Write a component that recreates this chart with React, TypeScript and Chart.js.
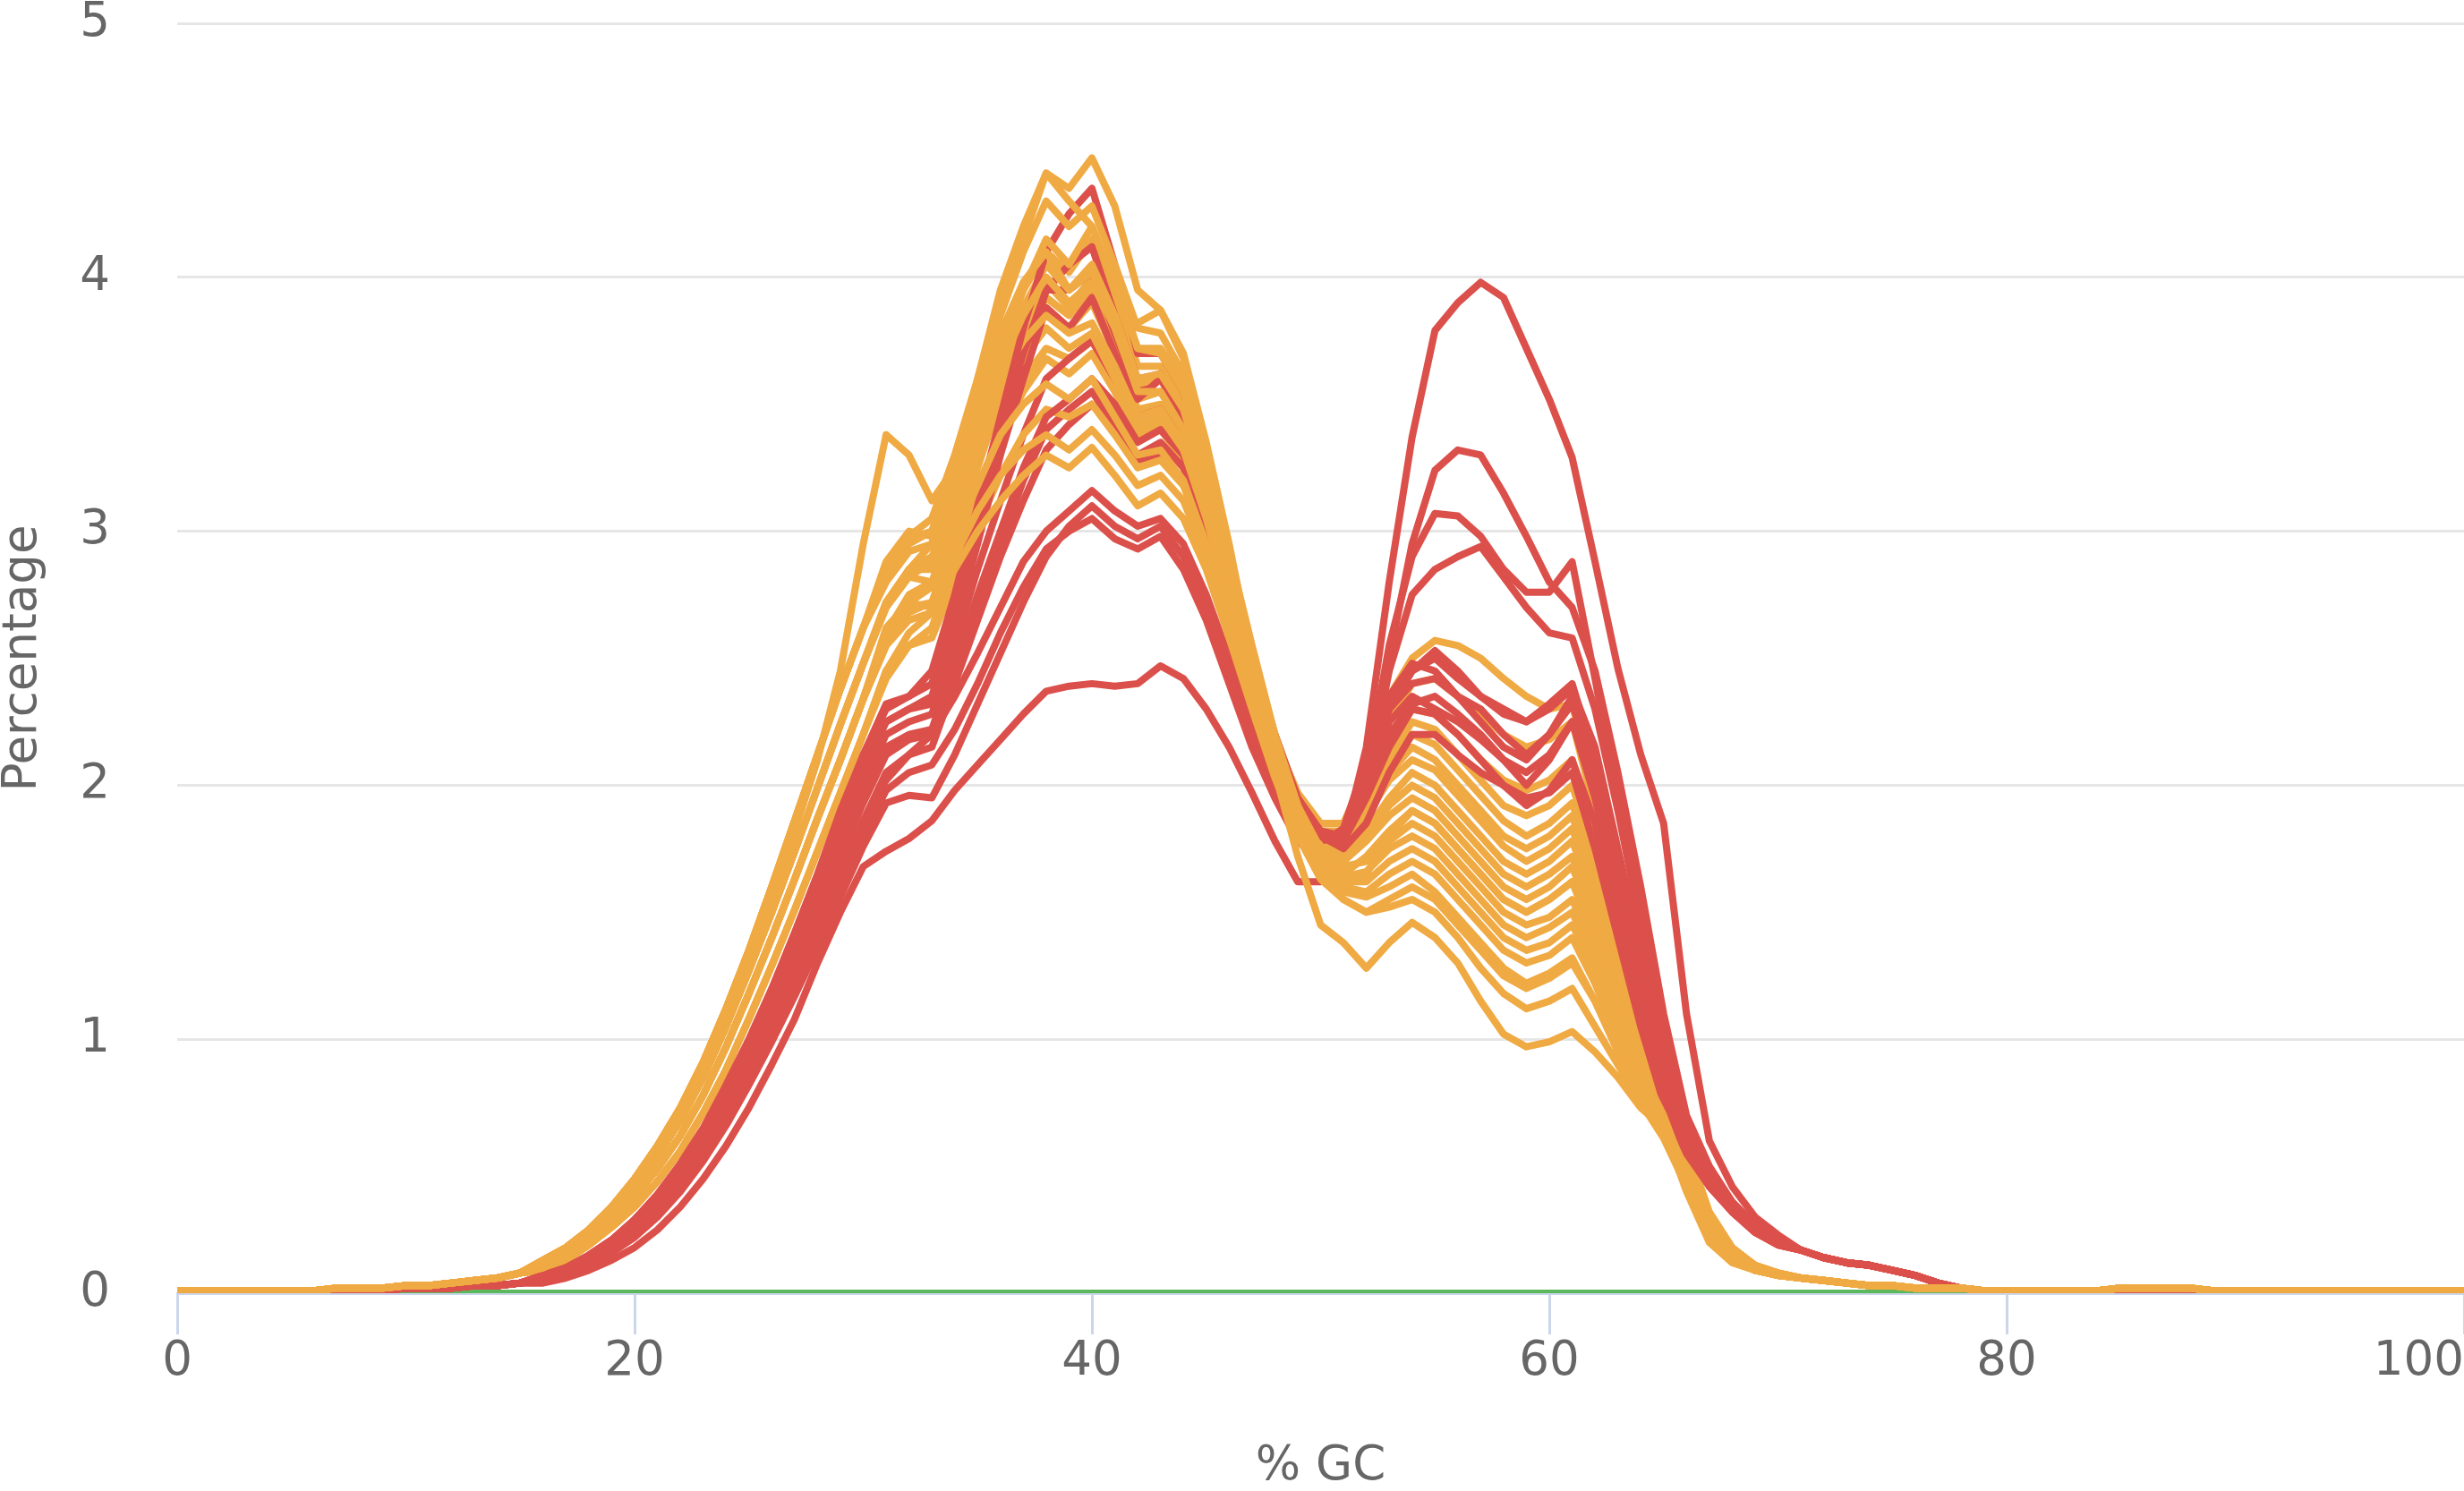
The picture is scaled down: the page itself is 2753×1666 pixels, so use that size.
import React, { useEffect, useRef } from "react";
import { Chart, registerables } from "chart.js";

Chart.register(...registerables);

// % GC categories (x axis)
const GC_PERCENT = [
  0, 1, 2, 3, 4, 5, 6, 7, 8, 9, 10, 11, 12, 13, 14, 15, 16, 17, 18, 19, 20,
  21, 22, 23, 24, 25, 26, 27, 28, 29, 30, 31, 32, 33, 34, 35, 36, 37, 38, 39, 40,
  41, 42, 43, 44, 45, 46, 47, 48, 49, 50, 51, 52, 53, 54, 55, 56, 57, 58, 59, 60,
  61, 62, 63, 64, 65, 66, 67, 68, 69, 70, 71, 72, 73, 74, 75, 76, 77, 78, 79, 80,
  81, 82, 83, 84, 85, 86, 87, 88, 89, 90, 91, 92, 93, 94, 95, 96, 97, 98, 99, 100,
];

// shared near-zero tails (x = 0..15 and x = 71..100)
const LEFT_TAIL_WARN = [0.01, 0.01, 0.01, 0.01, 0.01, 0.01, 0.01, 0.02, 0.02, 0.02, 0.03, 0.03, 0.04, 0.05, 0.06, 0.08];
const LEFT_TAIL_FAIL = [0, 0.01, 0.01, 0.01, 0.01, 0.01, 0.01, 0.01, 0.01, 0.01, 0.02, 0.02, 0.02, 0.03, 0.03, 0.04];
const RIGHT_TAIL_WARN = [0.06, 0.05, 0.04, 0.03, 0.03, 0.02, 0.02, 0.02, 0.01, 0.01, 0.01, 0.01, 0.01, 0.01, 0.02, 0.02, 0.02, 0.02, 0.01, 0.01, 0.01, 0.01, 0.01, 0.01, 0.01, 0.01, 0.01, 0.01, 0.01, 0.01];
const RIGHT_TAIL_FAIL = [0.17, 0.14, 0.12, 0.11, 0.09, 0.07, 0.04, 0.02, 0.01, 0.01, 0.01, 0.01, 0.01, 0.01, 0.01, 0.01, 0.01, 0.01, 0.01, 0.01, 0.01, 0.01, 0.01, 0.01, 0.01, 0.01, 0.01, 0.01, 0.01, 0.01];

// ---- failed samples (red) : x = 16..30 | 31..49 | 50..70
const fail01 = [...LEFT_TAIL_FAIL,
  0.04, 0.06, 0.09, 0.13, 0.18, 0.25, 0.34, 0.45, 0.58, 0.73, 0.9, 1.08, 1.3, 1.5, 1.68,
  1.74, 1.79, 1.86, 1.98, 2.08, 2.18, 2.28, 2.37, 2.39, 2.4, 2.39, 2.4, 2.47, 2.42, 2.3, 2.15, 1.97, 1.78, 1.62,
  1.62, 1.78, 2.15, 2.8, 3.37, 3.79, 3.9, 3.98, 3.92, 3.72, 3.52, 3.29, 2.88, 2.46, 2.12, 1.85, 1.1, 0.6, 0.42, 0.3, 0.23,
  ...RIGHT_TAIL_FAIL];
const fail02 = [...LEFT_TAIL_FAIL,
  0.05, 0.07, 0.11, 0.16, 0.22, 0.3, 0.4, 0.52, 0.66, 0.82, 0.99, 1.17, 1.36, 1.56, 1.76,
  1.93, 1.96, 1.95, 2.12, 2.32, 2.52, 2.72, 2.9, 3.02, 3.1, 3.02, 2.97, 3.02, 2.9, 2.7, 2.45, 2.2, 1.98, 1.8,
  1.7, 1.72, 2.0, 2.5, 2.95, 3.24, 3.32, 3.3, 3.15, 2.98, 2.8, 2.7, 2.45, 2.05, 1.6, 1.1, 0.7, 0.5, 0.36, 0.27, 0.21,
  ...RIGHT_TAIL_FAIL];
const fail03 = [...LEFT_TAIL_FAIL,
  0.05, 0.08, 0.12, 0.17, 0.23, 0.31, 0.41, 0.53, 0.67, 0.83, 1.0, 1.19, 1.39, 1.6, 1.8,
  1.98, 2.05, 2.08, 2.22, 2.4, 2.6, 2.78, 2.93, 3.0, 3.05, 2.97, 2.93, 2.98, 2.85, 2.65, 2.4, 2.15, 1.95, 1.78,
  1.7, 1.75, 2.05, 2.55, 2.9, 3.07, 3.06, 2.98, 2.85, 2.76, 2.76, 2.88, 2.42, 1.95, 1.5, 1.05, 0.68, 0.48, 0.34, 0.26, 0.2,
  ...RIGHT_TAIL_FAIL];
const fail04 = [...LEFT_TAIL_FAIL,
  0.05, 0.08, 0.12, 0.17, 0.24, 0.32, 0.42, 0.55, 0.7, 0.87, 1.05, 1.24, 1.44, 1.65, 1.86,
  2.02, 2.12, 2.2, 2.35, 2.52, 2.7, 2.88, 3.0, 3.08, 3.16, 3.08, 3.02, 3.05, 2.95, 2.75, 2.5, 2.25, 2.0, 1.82,
  1.72, 1.73, 2.0, 2.45, 2.75, 2.85, 2.9, 2.94, 2.82, 2.7, 2.6, 2.58, 2.3, 1.9, 1.45, 1.0, 0.65, 0.46, 0.33, 0.25, 0.2,
  ...RIGHT_TAIL_FAIL];
const fail05 = [...LEFT_TAIL_FAIL,
  0.07, 0.1, 0.15, 0.21, 0.29, 0.39, 0.51, 0.65, 0.82, 1.0, 1.2, 1.42, 1.65, 1.9, 2.12,
  2.3, 2.35, 2.45, 2.75, 3.1, 3.45, 3.8, 4.1, 4.25, 4.35, 4.05, 3.7, 3.7, 3.55, 3.2, 2.85, 2.5, 2.2, 1.95,
  1.8, 1.75, 1.85, 2.05, 2.2, 2.2, 2.12, 2.05, 2.0, 1.95, 1.97, 2.05, 1.75, 1.4, 1.05, 0.75, 0.55, 0.42, 0.32, 0.25, 0.2,
  ...RIGHT_TAIL_FAIL];
const fail06 = [...LEFT_TAIL_FAIL,
  0.07, 0.1, 0.14, 0.2, 0.28, 0.37, 0.49, 0.63, 0.79, 0.97, 1.17, 1.38, 1.61, 1.85, 2.08,
  2.25, 2.3, 2.35, 2.65, 3.0, 3.35, 3.65, 3.95, 4.05, 4.12, 3.85, 3.6, 3.62, 3.45, 3.15, 2.8, 2.45, 2.15, 1.92,
  1.78, 1.8, 2.05, 2.3, 2.45, 2.53, 2.45, 2.35, 2.28, 2.25, 2.32, 2.4, 2.1, 1.7, 1.3, 0.9, 0.62, 0.45, 0.34, 0.26, 0.21,
  ...RIGHT_TAIL_FAIL];
const fail07 = [...LEFT_TAIL_FAIL,
  0.06, 0.09, 0.13, 0.19, 0.26, 0.35, 0.46, 0.59, 0.75, 0.93, 1.12, 1.33, 1.55, 1.78, 2.0,
  2.2, 2.25, 2.28, 2.55, 2.85, 3.12, 3.38, 3.6, 3.68, 3.75, 3.6, 3.45, 3.48, 3.35, 3.08, 2.75, 2.42, 2.13, 1.9,
  1.78, 1.82, 2.1, 2.3, 2.4, 2.42, 2.35, 2.3, 2.2, 2.12, 2.2, 2.32, 2.05, 1.65, 1.25, 0.85, 0.6, 0.44, 0.33, 0.25, 0.2,
  ...RIGHT_TAIL_FAIL];
const fail08 = [...LEFT_TAIL_FAIL,
  0.06, 0.09, 0.13, 0.18, 0.25, 0.34, 0.45, 0.58, 0.73, 0.9, 1.09, 1.3, 1.52, 1.74, 1.95,
  2.15, 2.2, 2.22, 2.48, 2.75, 3.0, 3.25, 3.45, 3.52, 3.6, 3.5, 3.35, 3.4, 3.3, 3.05, 2.72, 2.4, 2.1, 1.88,
  1.75, 1.78, 2.0, 2.25, 2.35, 2.3, 2.25, 2.18, 2.1, 2.0, 2.1, 2.25, 2.0, 1.6, 1.2, 0.82, 0.58, 0.43, 0.32, 0.24, 0.19,
  ...RIGHT_TAIL_FAIL];
const fail09 = [...LEFT_TAIL_FAIL,
  0.06, 0.09, 0.13, 0.18, 0.25, 0.34, 0.44, 0.57, 0.72, 0.89, 1.08, 1.28, 1.5, 1.72, 1.93,
  2.12, 2.18, 2.2, 2.45, 2.7, 2.95, 3.2, 3.4, 3.48, 3.55, 3.42, 3.3, 3.35, 3.25, 3.0, 2.68, 2.37, 2.08, 1.87,
  1.77, 1.83, 2.1, 2.35, 2.48, 2.45, 2.35, 2.25, 2.15, 2.1, 2.2, 2.35, 2.05, 1.65, 1.25, 0.85, 0.6, 0.44, 0.33, 0.25, 0.2,
  ...RIGHT_TAIL_FAIL];
const fail10 = [...LEFT_TAIL_FAIL,
  0.07, 0.1, 0.14, 0.2, 0.28, 0.37, 0.48, 0.62, 0.78, 0.96, 1.15, 1.36, 1.6, 1.83, 2.05,
  2.25, 2.3, 2.32, 2.62, 2.95, 3.3, 3.6, 3.88, 3.8, 3.92, 3.7, 3.52, 3.6, 3.45, 3.15, 2.8, 2.45, 2.15, 1.92,
  1.8, 1.78, 1.95, 2.15, 2.3, 2.28, 2.2, 2.1, 2.0, 1.92, 1.98, 2.1, 1.85, 1.5, 1.15, 0.8, 0.56, 0.42, 0.32, 0.24, 0.19,
  ...RIGHT_TAIL_FAIL];
const fail11 = [...LEFT_TAIL_FAIL,
  0.06, 0.08, 0.12, 0.17, 0.24, 0.32, 0.42, 0.55, 0.7, 0.86, 1.04, 1.24, 1.45, 1.66, 1.86,
  2.05, 2.12, 2.15, 2.4, 2.65, 2.9, 3.12, 3.32, 3.42, 3.5, 3.4, 3.28, 3.3, 3.2, 2.95, 2.65, 2.35, 2.05, 1.85,
  1.75, 1.8, 2.05, 2.3, 2.45, 2.5, 2.42, 2.35, 2.3, 2.25, 2.3, 2.38, 2.15, 1.75, 1.35, 0.95, 0.65, 0.47, 0.35, 0.27, 0.21,
  ...RIGHT_TAIL_FAIL];
const fail12 = [...LEFT_TAIL_FAIL,
  0.07, 0.1, 0.15, 0.21, 0.29, 0.38, 0.5, 0.64, 0.8, 0.98, 1.18, 1.4, 1.63, 1.88, 2.12,
  2.32, 2.35, 2.4, 2.7, 3.05, 3.4, 3.7, 3.95, 3.95, 4.02, 3.78, 3.55, 3.6, 3.48, 3.18, 2.82, 2.48, 2.18, 1.95,
  1.82, 1.8, 1.98, 2.2, 2.32, 2.35, 2.28, 2.2, 2.1, 2.05, 2.12, 2.25, 1.95, 1.55, 1.2, 0.82, 0.57, 0.42, 0.32, 0.24, 0.19,
  ...RIGHT_TAIL_FAIL];

// ---- warning samples (orange) : x = 16..30 | 31..49 | 50..70
const warn01 = [...LEFT_TAIL_WARN,
  0.12, 0.17, 0.24, 0.33, 0.44, 0.57, 0.72, 0.9, 1.1, 1.33, 1.57, 1.82, 2.1, 2.45, 2.95,
  3.38, 3.3, 3.12, 3.25, 3.45, 3.65, 3.85, 4.0, 3.9, 3.98, 3.8, 3.55, 3.55, 3.4, 3.1, 2.75, 2.4, 2.1, 1.85,
  1.7, 1.6, 1.65, 1.8, 1.9, 1.85, 1.75, 1.65, 1.55, 1.5, 1.55, 1.62, 1.4, 1.15, 0.9, 0.68, 0.45, 0.25, 0.15, 0.1, 0.07,
  ...RIGHT_TAIL_WARN];
const warn02 = [...LEFT_TAIL_WARN,
  0.13, 0.18, 0.25, 0.34, 0.45, 0.58, 0.73, 0.91, 1.12, 1.35, 1.6, 1.86, 2.12, 2.38, 2.62,
  2.85, 2.98, 3.05, 3.3, 3.6, 3.9, 4.15, 4.41, 4.35, 4.47, 4.28, 3.95, 3.87, 3.7, 3.35, 2.95, 2.5, 2.05, 1.72,
  1.45, 1.38, 1.28, 1.38, 1.46, 1.4, 1.3, 1.15, 1.02, 0.97, 0.99, 1.03, 0.95, 0.85, 0.73, 0.65, 0.4, 0.2, 0.12, 0.09, 0.07,
  ...RIGHT_TAIL_WARN];
const warn03 = [...LEFT_TAIL_WARN,
  0.12, 0.17, 0.23, 0.32, 0.42, 0.54, 0.68, 0.85, 1.05, 1.27, 1.5, 1.74, 1.99, 2.24, 2.48,
  2.72, 2.85, 2.95, 3.25, 3.6, 3.95, 4.2, 4.41, 4.3, 4.2, 3.98, 3.72, 3.7, 3.55, 3.22, 2.85, 2.48, 2.15, 1.88,
  1.68, 1.55, 1.5, 1.55, 1.6, 1.55, 1.45, 1.35, 1.25, 1.2, 1.24, 1.3, 1.15, 0.95, 0.78, 0.62, 0.42, 0.23, 0.13, 0.09, 0.07,
  ...RIGHT_TAIL_WARN];
const warn04 = [...LEFT_TAIL_WARN,
  0.13, 0.18, 0.25, 0.34, 0.45, 0.58, 0.73, 0.91, 1.12, 1.35, 1.6, 1.86, 2.12, 2.38, 2.62,
  2.82, 2.95, 3.0, 3.25, 3.55, 3.85, 4.1, 4.3, 4.2, 4.28, 4.05, 3.8, 3.78, 3.62, 3.3, 2.92, 2.55, 2.2, 1.92,
  1.72, 1.62, 1.62, 1.7, 1.75, 1.7, 1.6, 1.5, 1.4, 1.35, 1.38, 1.45, 1.28, 1.05, 0.85, 0.68, 0.45, 0.25, 0.14, 0.09, 0.07,
  ...RIGHT_TAIL_WARN];
const warn05 = [...LEFT_TAIL_WARN,
  0.1, 0.15, 0.21, 0.29, 0.38, 0.49, 0.62, 0.78, 0.97, 1.18, 1.4, 1.63, 1.87, 2.1, 2.34,
  2.58, 2.72, 2.78, 3.05, 3.38, 3.7, 3.95, 4.15, 4.05, 4.2, 3.98, 3.72, 3.72, 3.58, 3.25, 2.88, 2.5, 2.18, 1.92,
  1.75, 1.68, 1.7, 1.78, 1.85, 1.8, 1.7, 1.6, 1.5, 1.45, 1.48, 1.55, 1.35, 1.1, 0.88, 0.7, 0.46, 0.26, 0.15, 0.1, 0.07,
  ...RIGHT_TAIL_WARN];
const warn06 = [...LEFT_TAIL_WARN,
  0.12, 0.17, 0.23, 0.32, 0.42, 0.54, 0.68, 0.85, 1.05, 1.27, 1.5, 1.74, 1.99, 2.24, 2.48,
  2.7, 2.82, 2.88, 3.12, 3.42, 3.72, 3.95, 4.1, 4.02, 4.15, 3.92, 3.65, 3.65, 3.5, 3.2, 2.85, 2.5, 2.2, 1.95,
  1.8, 1.75, 1.88, 2.1, 2.25, 2.22, 2.12, 2.02, 1.92, 1.88, 1.92, 2.0, 1.72, 1.38, 1.05, 0.78, 0.5, 0.28, 0.16, 0.1, 0.08,
  ...RIGHT_TAIL_WARN];
const warn07 = [...LEFT_TAIL_WARN,
  0.13, 0.18, 0.25, 0.34, 0.45, 0.58, 0.73, 0.91, 1.12, 1.35, 1.6, 1.86, 2.12, 2.38, 2.62,
  2.85, 2.97, 3.0, 3.22, 3.5, 3.78, 3.98, 4.1, 3.95, 4.05, 3.85, 3.6, 3.62, 3.48, 3.18, 2.82, 2.45, 2.12, 1.88,
  1.68, 1.6, 1.58, 1.65, 1.7, 1.65, 1.55, 1.45, 1.35, 1.3, 1.33, 1.4, 1.22, 1.0, 0.82, 0.66, 0.44, 0.24, 0.14, 0.09, 0.07,
  ...RIGHT_TAIL_WARN];
const warn08 = [...LEFT_TAIL_WARN,
  0.1, 0.15, 0.21, 0.29, 0.38, 0.49, 0.62, 0.78, 0.97, 1.18, 1.4, 1.63, 1.87, 2.1, 2.34,
  2.6, 2.75, 2.8, 3.05, 3.35, 3.65, 3.88, 4.05, 3.95, 4.02, 3.82, 3.58, 3.6, 3.45, 3.15, 2.8, 2.45, 2.15, 1.9,
  1.75, 1.7, 1.78, 1.88, 1.95, 1.9, 1.8, 1.7, 1.6, 1.55, 1.6, 1.68, 1.45, 1.18, 0.92, 0.72, 0.47, 0.26, 0.15, 0.1, 0.07,
  ...RIGHT_TAIL_WARN];
const warn09 = [...LEFT_TAIL_WARN,
  0.12, 0.17, 0.23, 0.32, 0.42, 0.54, 0.68, 0.85, 1.05, 1.27, 1.5, 1.74, 1.99, 2.24, 2.48,
  2.7, 2.85, 2.9, 3.1, 3.35, 3.6, 3.82, 3.98, 3.88, 4.0, 3.78, 3.52, 3.55, 3.4, 3.1, 2.78, 2.45, 2.15, 1.92,
  1.78, 1.72, 1.82, 1.95, 2.05, 2.0, 1.9, 1.8, 1.7, 1.65, 1.7, 1.78, 1.55, 1.25, 0.98, 0.75, 0.49, 0.27, 0.16, 0.1, 0.07,
  ...RIGHT_TAIL_WARN];
const warn10 = [...LEFT_TAIL_WARN,
  0.09, 0.13, 0.19, 0.26, 0.34, 0.44, 0.56, 0.71, 0.88, 1.08, 1.29, 1.51, 1.74, 1.97, 2.2,
  2.45, 2.6, 2.68, 2.95, 3.25, 3.52, 3.75, 3.92, 3.85, 3.95, 3.75, 3.52, 3.55, 3.42, 3.12, 2.8, 2.48, 2.18, 1.95,
  1.82, 1.8, 1.95, 2.15, 2.3, 2.28, 2.2, 2.1, 2.02, 1.98, 2.02, 2.1, 1.8, 1.45, 1.1, 0.8, 0.52, 0.29, 0.17, 0.11, 0.08,
  ...RIGHT_TAIL_WARN];
const warn11 = [...LEFT_TAIL_WARN,
  0.1, 0.15, 0.21, 0.29, 0.38, 0.49, 0.62, 0.78, 0.97, 1.18, 1.4, 1.63, 1.87, 2.1, 2.34,
  2.55, 2.68, 2.72, 2.98, 3.28, 3.55, 3.75, 3.88, 3.8, 3.9, 3.7, 3.48, 3.5, 3.38, 3.1, 2.78, 2.45, 2.15, 1.93,
  1.8, 1.75, 1.88, 2.05, 2.15, 2.1, 2.0, 1.9, 1.8, 1.75, 1.8, 1.88, 1.62, 1.3, 1.02, 0.78, 0.5, 0.28, 0.16, 0.1, 0.07,
  ...RIGHT_TAIL_WARN];
const warn12 = [...LEFT_TAIL_WARN,
  0.13, 0.18, 0.25, 0.34, 0.45, 0.58, 0.73, 0.91, 1.12, 1.35, 1.6, 1.86, 2.12, 2.38, 2.62,
  2.88, 3.0, 2.98, 3.15, 3.38, 3.6, 3.75, 3.85, 3.78, 3.82, 3.65, 3.45, 3.48, 3.35, 3.08, 2.75, 2.42, 2.12, 1.88,
  1.72, 1.65, 1.72, 1.82, 1.9, 1.85, 1.75, 1.65, 1.55, 1.5, 1.55, 1.62, 1.4, 1.15, 0.9, 0.7, 0.46, 0.26, 0.15, 0.1, 0.07,
  ...RIGHT_TAIL_WARN];
const warn13 = [...LEFT_TAIL_WARN,
  0.12, 0.17, 0.23, 0.32, 0.42, 0.54, 0.68, 0.85, 1.05, 1.27, 1.5, 1.74, 1.99, 2.24, 2.48,
  2.72, 2.85, 2.85, 3.05, 3.3, 3.52, 3.68, 3.8, 3.72, 3.78, 3.6, 3.42, 3.45, 3.32, 3.05, 2.72, 2.4, 2.12, 1.9,
  1.76, 1.72, 1.8, 1.92, 2.0, 1.95, 1.85, 1.75, 1.65, 1.6, 1.65, 1.72, 1.5, 1.22, 0.95, 0.74, 0.48, 0.27, 0.16, 0.1, 0.07,
  ...RIGHT_TAIL_WARN];
const warn14 = [...LEFT_TAIL_WARN,
  0.09, 0.13, 0.19, 0.26, 0.34, 0.44, 0.56, 0.71, 0.88, 1.08, 1.29, 1.51, 1.74, 1.97, 2.2,
  2.42, 2.55, 2.62, 2.88, 3.15, 3.4, 3.6, 3.72, 3.68, 3.75, 3.58, 3.4, 3.42, 3.3, 3.05, 2.75, 2.45, 2.18, 1.97,
  1.85, 1.85, 2.05, 2.35, 2.5, 2.57, 2.55, 2.5, 2.42, 2.35, 2.3, 2.32, 1.95, 1.55, 1.2, 0.9, 0.58, 0.32, 0.18, 0.11, 0.08,
  ...RIGHT_TAIL_WARN];
const warn15 = [...LEFT_TAIL_WARN,
  0.1, 0.15, 0.21, 0.29, 0.38, 0.49, 0.62, 0.78, 0.97, 1.18, 1.4, 1.63, 1.87, 2.1, 2.34,
  2.55, 2.65, 2.68, 2.9, 3.15, 3.38, 3.55, 3.68, 3.62, 3.7, 3.55, 3.38, 3.4, 3.28, 3.02, 2.72, 2.42, 2.15, 1.93,
  1.82, 1.78, 1.92, 2.1, 2.2, 2.16, 2.06, 1.96, 1.86, 1.8, 1.85, 1.93, 1.66, 1.33, 1.04, 0.78, 0.5, 0.28, 0.16, 0.1, 0.07,
  ...RIGHT_TAIL_WARN];
const warn16 = [...LEFT_TAIL_WARN,
  0.12, 0.17, 0.23, 0.32, 0.42, 0.54, 0.68, 0.85, 1.05, 1.27, 1.5, 1.74, 1.99, 2.24, 2.48,
  2.72, 2.82, 2.8, 2.98, 3.18, 3.38, 3.5, 3.58, 3.52, 3.6, 3.45, 3.3, 3.32, 3.2, 2.95, 2.65, 2.35, 2.08, 1.85,
  1.7, 1.64, 1.66, 1.75, 1.8, 1.75, 1.65, 1.55, 1.45, 1.4, 1.44, 1.5, 1.3, 1.08, 0.86, 0.68, 0.45, 0.25, 0.14, 0.09, 0.07,
  ...RIGHT_TAIL_WARN];
const warn17 = [...LEFT_TAIL_WARN,
  0.09, 0.13, 0.19, 0.26, 0.34, 0.44, 0.56, 0.71, 0.88, 1.08, 1.29, 1.51, 1.74, 1.97, 2.2,
  2.45, 2.55, 2.58, 2.8, 3.02, 3.22, 3.38, 3.48, 3.45, 3.5, 3.38, 3.25, 3.28, 3.18, 2.95, 2.68, 2.38, 2.12, 1.92,
  1.8, 1.76, 1.88, 2.02, 2.1, 2.06, 1.96, 1.86, 1.76, 1.7, 1.75, 1.83, 1.58, 1.28, 1.0, 0.76, 0.49, 0.27, 0.16, 0.1, 0.07,
  ...RIGHT_TAIL_WARN];
const warn18 = [...LEFT_TAIL_WARN,
  0.1, 0.15, 0.21, 0.29, 0.38, 0.49, 0.62, 0.78, 0.97, 1.18, 1.4, 1.63, 1.87, 2.1, 2.34,
  2.6, 2.7, 2.72, 2.9, 3.08, 3.22, 3.32, 3.38, 3.32, 3.4, 3.3, 3.18, 3.22, 3.12, 2.9, 2.62, 2.32, 2.05, 1.82,
  1.66, 1.58, 1.56, 1.6, 1.65, 1.58, 1.48, 1.38, 1.28, 1.22, 1.26, 1.32, 1.15, 0.96, 0.78, 0.63, 0.43, 0.24, 0.14, 0.09, 0.07,
  ...RIGHT_TAIL_WARN];
const warn19 = [...LEFT_TAIL_WARN,
  0.1, 0.15, 0.21, 0.29, 0.38, 0.49, 0.62, 0.78, 0.97, 1.18, 1.4, 1.63, 1.87, 2.1, 2.34,
  2.62, 2.72, 2.7, 2.85, 3.0, 3.12, 3.22, 3.3, 3.25, 3.33, 3.22, 3.1, 3.15, 3.05, 2.85, 2.58, 2.3, 2.03, 1.8,
  1.63, 1.55, 1.5, 1.52, 1.55, 1.5, 1.4, 1.28, 1.18, 1.12, 1.15, 1.2, 1.05, 0.9, 0.75, 0.61, 0.42, 0.23, 0.13, 0.09, 0.07,
  ...RIGHT_TAIL_WARN];
const warn20 = [...LEFT_TAIL_WARN,
  0.13, 0.18, 0.25, 0.34, 0.45, 0.58, 0.73, 0.91, 1.12, 1.35, 1.6, 1.86, 2.12, 2.38, 2.62,
  2.8, 2.92, 2.95, 3.15, 3.42, 3.65, 3.82, 3.92, 3.85, 3.95, 3.85, 3.82, 3.87, 3.68, 3.3, 2.9, 2.52, 2.2, 1.95,
  1.82, 1.82, 2.0, 2.25, 2.4, 2.42, 2.35, 2.28, 2.2, 2.15, 2.18, 2.25, 1.9, 1.5, 1.15, 0.85, 0.55, 0.3, 0.17, 0.11, 0.08,
  ...RIGHT_TAIL_WARN];

// ---- passed sample (green), flat at zero
const pass01 = [
  0, 0, 0, 0, 0, 0, 0, 0, 0, 0, 0, 0, 0, 0, 0, 0, 0, 0, 0, 0, 0,
  0, 0, 0, 0, 0, 0, 0, 0, 0, 0, 0, 0, 0, 0, 0, 0, 0, 0, 0, 0,
  0, 0, 0, 0, 0, 0, 0, 0, 0, 0, 0, 0, 0, 0, 0, 0, 0, 0, 0, 0,
  0, 0, 0, 0, 0, 0, 0, 0, 0, 0, 0, 0, 0, 0, 0, 0, 0, 0, 0, 0,
  0, 0, 0, 0, 0, 0, 0, 0, 0, 0, 0, 0, 0, 0, 0, 0, 0, 0, 0, 0,
];

const Y_TICKS = [0, 1, 2, 3, 4, 5];
const X_TICK_STEP = 20;

const FAIL = "#dc504b";
const WARN = "#f0aa43";
const PASS = "#5cb85c";
const FONT = "'DejaVu Sans', sans-serif";
const FONT_SIZE = 53;
const TEXT_COLOR = "#666666";
const X_TICK_LEN = 46;
const X_TICK_PAD = 5;

// bottom -> top drawing order
const LAYERS: { name: string; values: number[]; color: string }[] = [
  { name: "pass01", values: pass01, color: PASS },
  { name: "fail01", values: fail01, color: FAIL },
  { name: "warn14", values: warn14, color: WARN },
  { name: "fail02", values: fail02, color: FAIL },
  { name: "warn20", values: warn20, color: WARN },
  { name: "fail03", values: fail03, color: FAIL },
  { name: "warn10", values: warn10, color: WARN },
  { name: "fail04", values: fail04, color: FAIL },
  { name: "warn06", values: warn06, color: WARN },
  { name: "fail11", values: fail11, color: FAIL },
  { name: "warn15", values: warn15, color: WARN },
  { name: "fail09", values: fail09, color: FAIL },
  { name: "warn11", values: warn11, color: WARN },
  { name: "fail07", values: fail07, color: FAIL },
  { name: "warn17", values: warn17, color: WARN },
  { name: "fail08", values: fail08, color: FAIL },
  { name: "warn09", values: warn09, color: WARN },
  { name: "fail06", values: fail06, color: FAIL },
  { name: "warn13", values: warn13, color: WARN },
  { name: "fail12", values: fail12, color: FAIL },
  { name: "warn08", values: warn08, color: WARN },
  { name: "fail10", values: fail10, color: FAIL },
  { name: "warn12", values: warn12, color: WARN },
  { name: "fail05", values: fail05, color: FAIL },
  { name: "warn05", values: warn05, color: WARN },
  { name: "warn16", values: warn16, color: WARN },
  { name: "warn04", values: warn04, color: WARN },
  { name: "warn18", values: warn18, color: WARN },
  { name: "warn07", values: warn07, color: WARN },
  { name: "warn19", values: warn19, color: WARN },
  { name: "warn03", values: warn03, color: WARN },
  { name: "warn01", values: warn01, color: WARN },
  { name: "warn02", values: warn02, color: WARN },
];

// Highcharts-style "justify": the last x label is pulled inside the canvas edge
const lastLabelJustify = {
  id: "lastLabelJustify",
  afterDraw(chart: any) {
    const xs = chart.scales.x;
    if (!xs || !xs.ticks.length) return;
    const last = xs.ticks[xs.ticks.length - 1];
    const text = String(last.value);
    const ctx = chart.ctx;
    ctx.save();
    ctx.font = `${FONT_SIZE}px ${FONT}`;
    ctx.fillStyle = TEXT_COLOR;
    ctx.textAlign = "right";
    ctx.textBaseline = "middle";
    ctx.fillText(text, chart.width, xs.top + X_TICK_LEN + X_TICK_PAD + FONT_SIZE / 2);
    ctx.restore();
  },
};

export default function App() {
  const canvasRef = useRef<HTMLCanvasElement | null>(null);

  useEffect(() => {
    const canvas = canvasRef.current;
    if (!canvas) return;

    const datasets = LAYERS.slice()
      .reverse()
      .map((layer) => ({
        label: layer.name,
        data: GC_PERCENT.map((x, i) => ({ x, y: layer.values[i] })),
        borderColor: layer.color,
        backgroundColor: layer.color,
        borderWidth: 8,
        pointRadius: 0,
        tension: 0,
        fill: false,
        borderJoinStyle: "round" as const,
        borderCapStyle: "round" as const,
      }));

    const chart = new Chart(canvas, {
      type: "line",
      data: { datasets },
      plugins: [lastLabelJustify],
      options: {
        animation: false,
        responsive: true,
        maintainAspectRatio: false,
        devicePixelRatio: 1,
        layout: { padding: { top: 26, left: 0, right: 0, bottom: 0 } },
        plugins: {
          legend: { display: false },
          tooltip: { enabled: false },
          title: { display: false },
        },
        scales: {
          x: {
            type: "linear",
            min: 0,
            max: 100,
            ticks: {
              stepSize: X_TICK_STEP,
              color: TEXT_COLOR,
              font: { family: FONT, size: FONT_SIZE, lineHeight: 1 },
              padding: X_TICK_PAD,
              maxRotation: 0,
              autoSkip: false,
              callback: (value: any, index: number, ticks: any[]) =>
                index === ticks.length - 1 ? "" : String(value),
            },
            grid: {
              drawOnChartArea: false,
              drawTicks: true,
              tickLength: X_TICK_LEN,
              color: "#ccd6eb",
              lineWidth: 3,
            },
            border: { display: true, color: "#ccd6eb", width: 3 },
            title: {
              display: true,
              text: "% GC",
              color: TEXT_COLOR,
              font: { family: FONT, size: FONT_SIZE, lineHeight: 1 },
              padding: { top: 3, bottom: 0 },
            },
            afterFit: (scale: any) => {
              scale.height = 221;
              scale.paddingLeft = 0;
              scale.paddingRight = 0;
            },
          },
          y: {
            min: 0,
            max: 5,
            afterBuildTicks: (scale: any) => {
              scale.ticks = Y_TICKS.map((v) => ({ value: v }));
            },
            ticks: {
              color: TEXT_COLOR,
              font: { family: FONT, size: FONT_SIZE, lineHeight: 1 },
              padding: 75,
            },
            grid: {
              color: "#e6e6e6",
              lineWidth: 3,
              drawTicks: false,
            },
            border: { display: false },
            title: {
              display: true,
              text: "Percentage",
              color: TEXT_COLOR,
              font: { family: FONT, size: FONT_SIZE, lineHeight: 1 },
              padding: { top: 0, bottom: 0 },
            },
            afterFit: (scale: any) => {
              scale.width = 198;
              scale.paddingTop = 0;
              scale.paddingBottom = 0;
            },
          },
        },
      },
    });

    return () => chart.destroy();
  }, []);

  return (
    <div
      style={{
        position: "fixed",
        left: 0,
        top: 0,
        width: 2753,
        height: 1666,
        background: "#ffffff",
      }}
    >
      <canvas ref={canvasRef} />
    </div>
  );
}
